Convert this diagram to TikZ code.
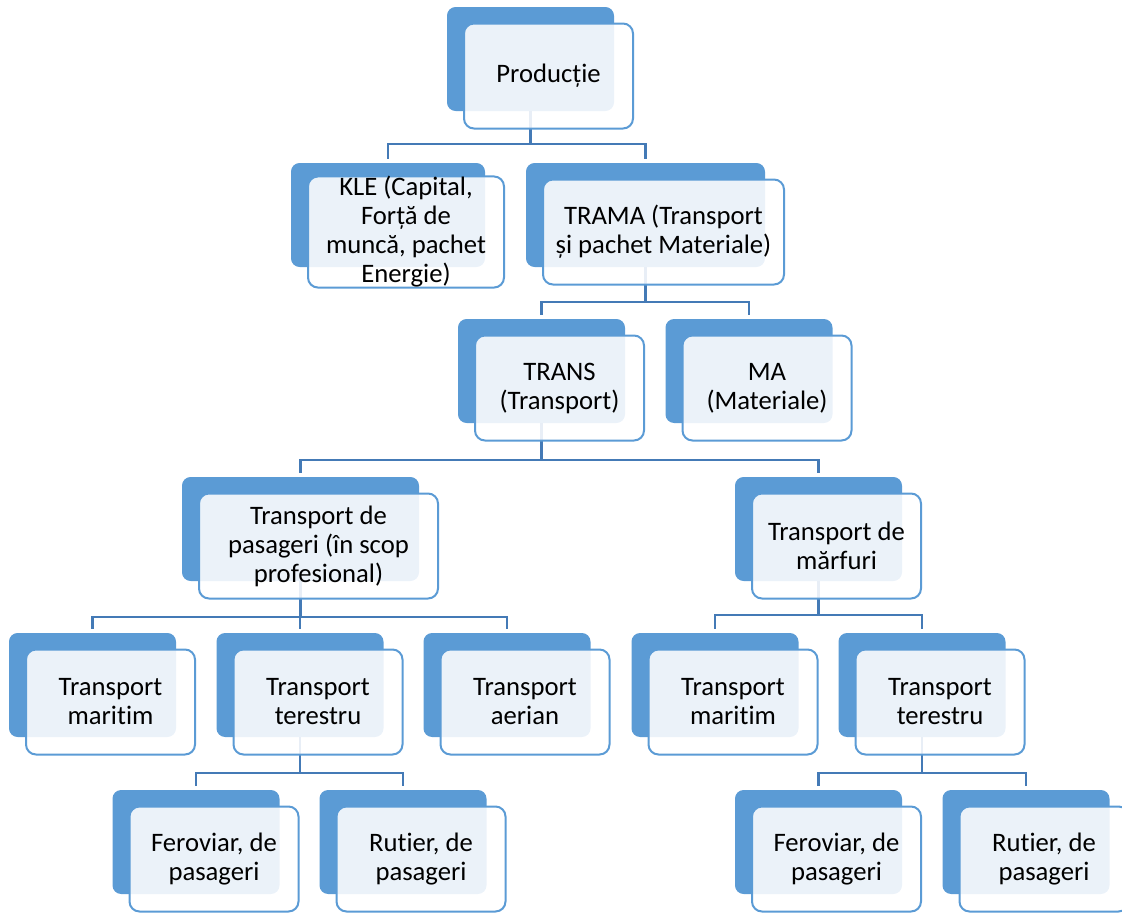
\documentclass[tikz,border=0pt]{standalone}
\usepackage{fontspec}
\setmainfont{Carlito}[Ligatures=CommonOff]
\usetikzlibrary{calc}
\definecolor{accent}{RGB}{91,155,213}
\definecolor{connc}{RGB}{68,122,182}
\tikzset{
  back/.style={draw=none, fill=accent, rounded corners=6.5pt, minimum height=104*0.75pt, inner sep=0pt},
  front/.style={draw=accent, line width=1.5pt, fill=white, fill opacity=0.88, text opacity=1,
    rounded corners=7.5pt, minimum height=105*0.75pt, inner sep=0pt,
    font=\fontsize{20}{21.75}\selectfont, align=center},
  conn/.style={draw=connc, line width=1.6pt, shorten >=3pt},
  bw/.style={minimum width=#1*0.75pt},
}
\begin{document}
\begin{tikzpicture}[x=0.75pt,y=-0.75pt]
\useasboundingbox (0,0) rectangle (1122,915);
% back boxes
\node[back,bw=167] (pB)   at (530.5,59) {};
\node[back,bw=194] (kB)   at (388,215) {};
\node[back,bw=239] (tB)   at (645.5,215) {};
\node[back,bw=167] (trB)  at (541.5,371) {};
\node[back,bw=167] (maB)  at (749,371) {};
\node[back,bw=237] (pasB) at (300.5,529) {};
\node[back,bw=167] (marB) at (818.5,529) {};
\node[back,bw=167] (m1B)  at (92.5,685) {};
\node[back,bw=167] (t1B)  at (300,685) {};
\node[back,bw=167] (aB)   at (507,685) {};
\node[back,bw=167] (m2B)  at (715,685) {};
\node[back,bw=167] (t2B)  at (922,685) {};
\node[back,bw=167] (f1B)  at (196,842) {};
\node[back,bw=167] (r1B)  at (403,842) {};
\node[back,bw=167] (f2B)  at (818.5,842) {};
\node[back,bw=167] (r2B)  at (1026,842) {};
% connectors
\draw[conn] (pB.south) -- ++(0,33) -| (kB.north);
\draw[conn] (pB.south) -- ++(0,33) -| (tB.north);
\draw[conn] (tB.south) -- ++(0,35) -| (trB.north);
\draw[conn] (tB.south) -- ++(0,35) -| (maB.north);
\draw[conn] (trB.south) -- ++(0,37) -| (pasB.north);
\draw[conn] (trB.south) -- ++(0,37) -| (marB.north);
\draw[conn] (pasB.south) -- ++(0,36) -| (m1B.north);
\draw[conn] (pasB.south) -- ++(0,36) -| (t1B.north);
\draw[conn] (pasB.south) -- ++(0,36) -| (aB.north);
\draw[conn] (marB.south) -- ++(0,34) -| (m2B.north);
\draw[conn] (marB.south) -- ++(0,34) -| (t2B.north);
\draw[conn] (t1B.south) -- ++(0,36) -| (f1B.north);
\draw[conn] (t1B.south) -- ++(0,36) -| (r1B.north);
\draw[conn] (t2B.south) -- ++(0,36) -| (f2B.north);
\draw[conn] (t2B.south) -- ++(0,36) -| (r2B.north);
% front boxes
\node[front,bw=169] (p)   at ($(pB)+(18,17)$)   {Producție};
\node[front,bw=196] (k)   at ($(kB)+(18,17)$)   {KLE (Capital,\\Forță de\\muncă, pachet\\Energie)};
\node[front,bw=241] (t)   at ($(tB)+(18,17)$)   {TRAMA (Transport\\și pachet Materiale)};
\node[front,bw=169] (tr)  at ($(trB)+(18,17)$)  {TRANS\\(Transport)};
\node[front,bw=169] (ma)  at ($(maB)+(18,17)$)  {MA\\(Materiale)};
\node[front,bw=239] (pas) at ($(pasB)+(18,17)$) {Transport de\\pasageri (în scop\\profesional)};
\node[front,bw=169] (mar) at ($(marB)+(18,17)$) {Transport de\\mărfuri};
\node[front,bw=169] (m1)  at ($(m1B)+(18,17)$)  {Transport\\maritim};
\node[front,bw=169] (t1)  at ($(t1B)+(18,17)$)  {Transport\\terestru};
\node[front,bw=169] (a)   at ($(aB)+(18,17)$)   {Transport\\aerian};
\node[front,bw=169] (m2)  at ($(m2B)+(18,17)$)  {Transport\\maritim};
\node[front,bw=169] (t2)  at ($(t2B)+(18,17)$)  {Transport\\terestru};
\node[front,bw=169] (f1)  at ($(f1B)+(18,17)$)  {Feroviar, de\\pasageri};
\node[front,bw=169] (r1)  at ($(r1B)+(18,17)$)  {Rutier, de\\pasageri};
\node[front,bw=169] (f2)  at ($(f2B)+(18,17)$)  {Feroviar, de\\pasageri};
\node[front,bw=169] (r2)  at ($(r2B)+(18,17)$)  {Rutier, de\\pasageri};
\end{tikzpicture}
\end{document}
